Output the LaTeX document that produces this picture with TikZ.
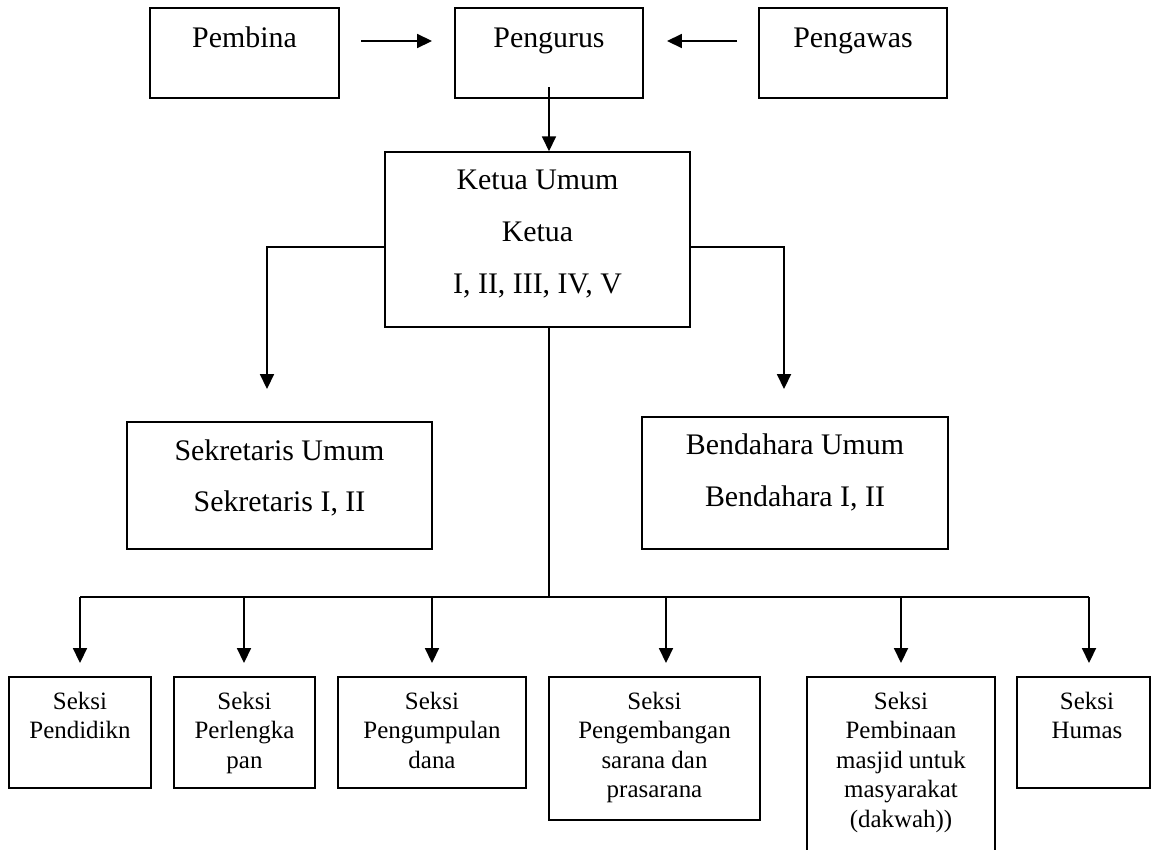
\documentclass[tikz,border=0pt]{standalone}
\usepackage{fontspec}
\setmainfont{Liberation Serif}
\usetikzlibrary{arrows.meta}
\tikzset{
  box/.style={draw, line width=0.9pt, rectangle, inner sep=0pt},
  big/.style={anchor=base, inner sep=0pt, font=\fontsize{17}{20}\selectfont},
  small/.style={anchor=base, inner sep=0pt, font=\fontsize{14.2}{17}\selectfont},
  conn/.style={line width=0.9pt},
  arr/.style={line width=0.9pt, -{Triangle[length=8.5pt,width=8pt]}}
}
\begin{document}
\begin{tikzpicture}[x=0.02cm, y=-0.02cm]
\useasboundingbox[fill=white] (0,0) rectangle (1156,849);
% top row
\node[box, minimum width=3.78cm, minimum height=1.8cm] (pembina) at (244.5,53) {};
\node[box, minimum width=3.76cm, minimum height=1.8cm] (pengurus) at (549,53) {};
\node[box, minimum width=3.76cm, minimum height=1.8cm] (pengawas) at (853,53) {};
\node[big] (tpembina) at (244.5,47) {Pembina};
\node[big] (tpengurus) at (549,47) {Pengurus};
\node[big] (tpengawas) at (853,47) {Pengawas};
% ketua
\node[box, minimum width=6.1cm, minimum height=3.5cm] (ketua) at (537.5,239.5) {};
\node[big] (tk1) at (537.5,189) {Ketua Umum};
\node[big] (tk2) at (537.5,241) {Ketua};
\node[big] (tk3) at (537.5,293) {I, II, III, IV, V};
% sekretaris / bendahara
\node[box, minimum width=6.1cm, minimum height=2.54cm] (sekr) at (279.5,485.5) {};
\node[big] (ts1) at (279.5,460) {Sekretaris Umum};
\node[big] (ts2) at (279.5,511) {Sekretaris I, II};
\node[box, minimum width=6.12cm, minimum height=2.64cm] (bend) at (795,483) {};
\node[big] (tb1) at (795,454) {Bendahara Umum};
\node[big] (tb2) at (795,506) {Bendahara I, II};
% bottom boxes
\node[box, minimum width=2.84cm, minimum height=2.22cm] (s1) at (80,732.5) {};
\node[box, minimum width=2.82cm, minimum height=2.22cm] (s2) at (244.5,732.5) {};
\node[box, minimum width=3.76cm, minimum height=2.22cm] (s3) at (432,732.5) {};
\node[box, minimum width=4.22cm, minimum height=2.86cm] (s4) at (654.5,748.5) {};
\node[box, minimum width=3.76cm, minimum height=3.66cm] (s5) at (901,768.5) {};
\node[box, minimum width=2.66cm, minimum height=2.22cm] (s6) at (1083.5,732.5) {};
\node[small] (a1) at (80,709) {Seksi};
\node[small] (a2) at (80,738) {Pendidikn};
\node[small] (b1) at (244.5,709) {Seksi};
\node[small] (b2) at (244.5,738) {Perlengka};
\node[small] (b3) at (244.5,768) {pan};
\node[small] (c1) at (432,709) {Seksi};
\node[small] (c2) at (432,738) {Pengumpulan};
\node[small] (c3) at (432,768) {dana};
\node[small] (d1) at (654.5,709) {Seksi};
\node[small] (d2) at (654.5,738) {Pengembangan};
\node[small] (d3) at (654.5,768) {sarana dan};
\node[small] (d4) at (654.5,797) {prasarana};
\node[small] (e1) at (901,709) {Seksi};
\node[small] (e2) at (901,738) {Pembinaan};
\node[small] (e3) at (901,768) {masjid untuk};
\node[small] (e4) at (901,797) {masyarakat};
\node[small] (e5) at (901,827) {(dakwah))};
\node[small] (f1) at (1087,709) {Seksi};
\node[small] (f2) at (1087,738) {Humas};
% connector coordinates
\coordinate (pa1) at (361,41);
\coordinate (pa2) at (432,41);
\coordinate (pw1) at (737,41);
\coordinate (pw2) at (667,41);
\coordinate (pg) at (549,87);
\coordinate (kl) at (267,247);
\coordinate (klt) at (267,389);
\coordinate (kr) at (784,247);
\coordinate (krt) at (784,389);
\coordinate (kb) at (549,597);
\coordinate (hl) at (80,597);
\coordinate (hr) at (1089,597);
% connectors
\draw[arr] (pa1) -- (pa2);
\draw[arr] (pw1) -- (pw2);
\draw[arr] (pg) -- (pg |- ketua.north);
\draw[arr] (ketua.west |- kl) -- (kl) -- (klt);
\draw[arr] (ketua.east |- kr) -- (kr) -- (krt);
\draw[conn] (ketua.south -| kb) -- (kb);
\draw[conn] (hl) -- (hr);
\foreach \n/\x in {1/80, 2/244, 3/432, 4/666, 5/901, 6/1089} {
  \coordinate (d\n) at (\x,597);
  \coordinate (e\n) at (\x,663);
  \draw[arr] (d\n) -- (e\n);
}
\end{tikzpicture}
\end{document}
